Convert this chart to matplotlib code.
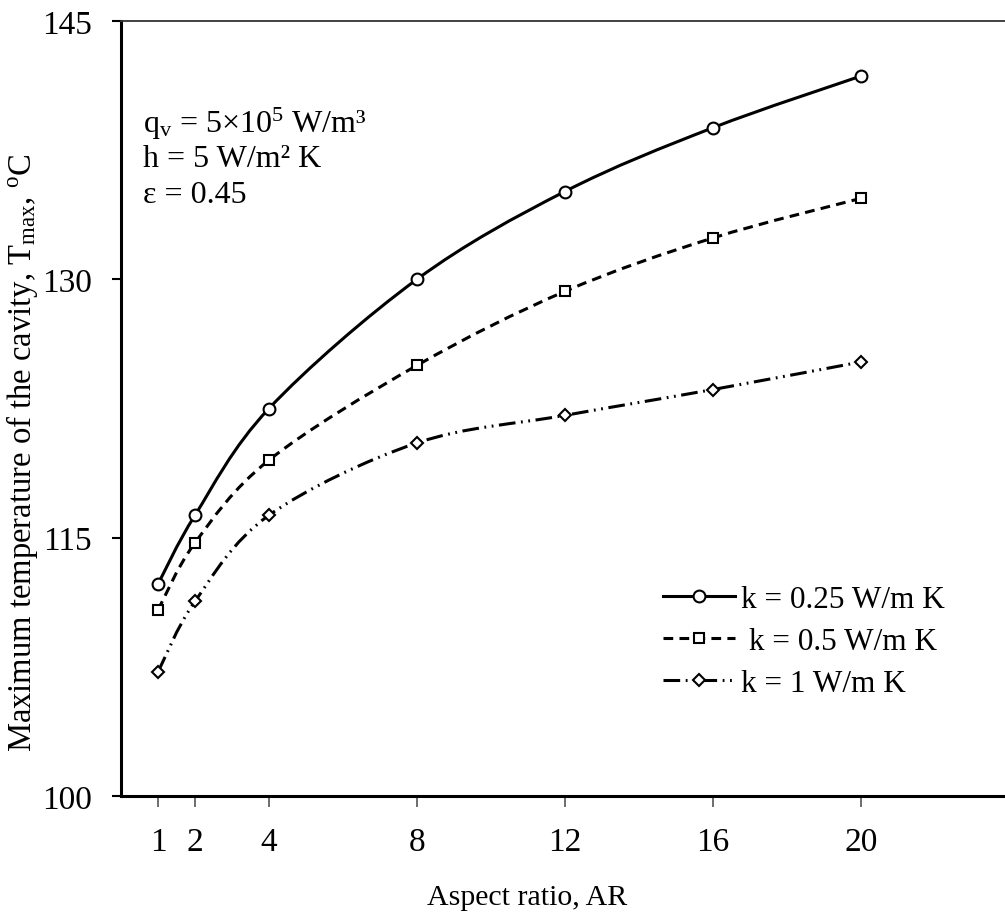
import numpy as np
import matplotlib
matplotlib.use('Agg')
import matplotlib.pyplot as plt
from matplotlib.path import Path
from matplotlib.patches import PathPatch
from matplotlib.lines import Line2D

plt.rcParams['font.family'] = ['Liberation Serif', 'DejaVu Serif']
plt.rcParams['mathtext.fontset'] = 'custom'
plt.rcParams['mathtext.rm'] = 'Liberation Serif'
plt.rcParams['mathtext.it'] = 'Liberation Serif:italic'
plt.rcParams['lines.scale_dashes'] = False

# aspect ratio vs. peak cavity temperature for three conductivities
aspect_ratio = [1, 2, 4, 8, 12, 16, 20]
t_k025 = [112.3, 116.3, 122.5, 130.0, 135.1, 138.8, 141.8]
t_k05 = [110.8, 114.7, 119.5, 125.0, 129.3, 132.4, 134.7]
t_k1 = [107.2, 111.3, 116.3, 120.5, 122.1, 123.6, 125.2]
labels = ['k = 0.25 W/m K', ' k = 0.5 W/m K', 'k = 1 W/m K']

x_ticks = [1, 2, 4, 8, 12, 16, 20]
y_ticks = [100, 115, 130, 145]


def smooth_path(x, y):
    # cubic bezier through the points (Catmull-Rom style tangents)
    pts = np.column_stack([x, y]).astype(float)
    n = len(pts)
    verts = [pts[0]]
    codes = [Path.MOVETO]
    for i in range(n - 1):
        p0 = pts[max(i - 1, 0)]
        p1 = pts[i]
        p2 = pts[i + 1]
        p3 = pts[min(i + 2, n - 1)]
        verts += [p1 + (p2 - p0) / 6, p2 - (p3 - p1) / 6, p2]
        codes += [Path.CURVE4] * 3
    return Path(verts, codes)


fig = plt.figure(figsize=(10.05, 9.2), dpi=100)
ax = fig.add_axes([121 / 1005, 1 - 797 / 920, 884 / 1005, 775 / 920])

styles = [
    dict(ls='-', marker='o', ms=8.5),
    dict(ls=(0, (7, 4.5)), marker='s', ms=6.5),
    dict(ls=(0, (12, 4, 1.3, 4, 1.3, 4)), marker='D', ms=6),
]
series = [t_k025, t_k05, t_k1]

handles = []
for y, st in zip(series, styles):
    ax.add_patch(PathPatch(smooth_path(aspect_ratio, y), fill=False,
                           edgecolor='black', lw=2.2, linestyle=st['ls'],
                           zorder=2))
    ax.plot(aspect_ratio, y, ls='none', marker=st['marker'], ms=st['ms'],
            mfc='white', mec='black', mew=1.5, zorder=3)
    handles.append(Line2D([], [], color='black', lw=2.2, ls=st['ls'],
                          marker=st['marker'], ms=st['ms'], mfc='white',
                          mec='black', mew=1.5))

ax.set_xlim(0, 23.9)
ax.set_ylim(100, 145)
ax.set_xticks(x_ticks)
ax.set_yticks(y_ticks)

ax.spines['right'].set_visible(False)
ax.spines['left'].set_linewidth(2.2)
ax.spines['bottom'].set_linewidth(2.2)
ax.spines['top'].set_linewidth(1.3)
ax.spines['top'].set_color('#333333')

ax.tick_params(axis='x', direction='out', length=8, width=1.2,
               color='#555555', labelsize=24, pad=14)
ax.tick_params(axis='y', direction='out', length=6.5, width=1.5,
               color='black', labelsize=24, pad=14.5)

ax.set_xlabel('Aspect ratio, AR', fontsize=21.5)
ax.xaxis.set_label_coords(0.459, -0.114)
ax.set_ylabel(r'Maximum temperature of the cavity, T$_{\mathrm{max}}$, $^{\mathrm{o}}$C',
              fontsize=23.5)
ax.yaxis.set_label_coords(-0.092, 0.444)

ax.text(0.025, 1 - (133 - 22) / 775, r'q$_{\mathrm{v}}$ = 5×10$^{5}$ W/m³',
        transform=ax.transAxes, fontsize=23, va='baseline')
ax.text(0.025, 1 - (167 - 22) / 775, 'h = 5 W/m² K',
        transform=ax.transAxes, fontsize=23, va='baseline')
ax.text(0.025, 1 - (203 - 22) / 775, 'ε = 0.45',
        transform=ax.transAxes, fontsize=23, va='baseline')

ax.legend(handles, labels, loc='upper left', frameon=False, fontsize=22.5,
          bbox_to_anchor=(663 / 1005, 1 - 586 / 920),
          bbox_transform=fig.transFigure, handlelength=2.3,
          handletextpad=0.2, labelspacing=0.42, borderaxespad=0,
          borderpad=0)

fig.savefig('out.png', dpi=100)
